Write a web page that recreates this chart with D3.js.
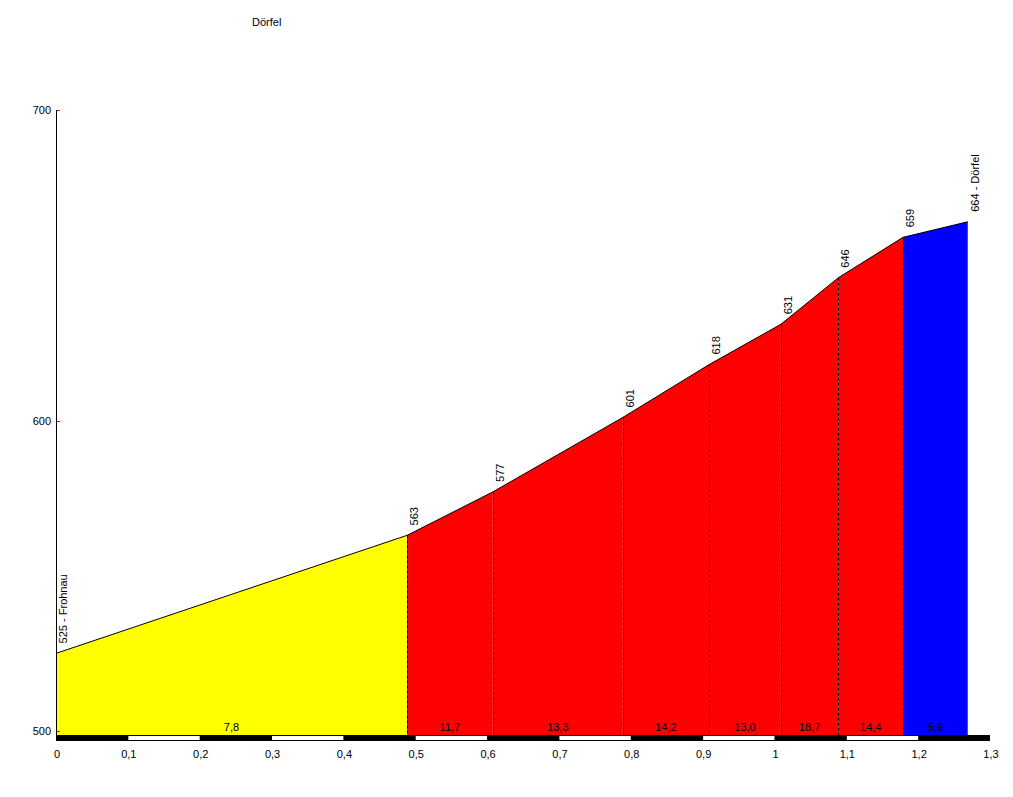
<!DOCTYPE html>
<html><head><meta charset="utf-8">
<script src="https://cdn.jsdelivr.net/npm/d3@7"></script>
<style>body{margin:0;background:#fff}svg text{font-family:"Liberation Sans",Arial,sans-serif;font-size:11px;fill:#000}</style>
</head><body>
<svg id="c" width="1013" height="797"></svg>
<script>
const title = "Dörfel";
const distances = [0, 0.4885, 0.608, 0.789, 0.909, 1.009, 1.089, 1.179, 1.269];
const elevations = [525, 563, 577, 601, 618, 631, 646, 659, 664];
const pointLabels = ["525 - Frohnau","563","577","601","618","631","646","659","664 - Dörfel"];
const gradients = ["7,8","11,7","13,3","14,2","13,0","18,7","14,4","5,6"];
const segColors = ["#ffff00","#ff0000","#ff0000","#ff0000","#ff0000","#ff0000","#ff0000","#0000ff"];
const xTicks = [0,0.1,0.2,0.3,0.4,0.5,0.6,0.7,0.8,0.9,1,1.1,1.2,1.3];
const yTicks = [500,600,700];

const svg = d3.select("#c");
const x = d3.scaleLinear().domain([0,1.3]).range([56,990]);
const y = d3.scaleLinear().domain([500,700]).range([731,110]);
const base = 735;
const fmt = v => String(v).replace(".", ",");

svg.append("text").attr("x",252).attr("y",26).text(title);

// filled segments
for (let i=0;i<gradients.length;i++){
  const x0=x(distances[i]), x1=x(distances[i+1]);
  svg.append("path")
    .attr("d",`M${x0},${base}L${x0},${y(elevations[i])}L${x1},${y(elevations[i+1])}L${x1},${base}Z`)
    .attr("fill",segColors[i]);
}
// profile line
svg.append("path").datum(distances.map((d,i)=>[x(d),y(elevations[i])]))
  .attr("d",d3.line()).attr("fill","none").attr("stroke","#000").attr("stroke-width",1);
// dashed dividers
for (let i=1;i<distances.length-1;i++){
  svg.append("line").attr("x1",Math.round(x(distances[i]))+0.5).attr("x2",Math.round(x(distances[i]))+0.5)
    .attr("y1",y(elevations[i])).attr("y2",base)
    .attr("stroke","#000").attr("stroke-width",1).attr("stroke-dasharray","3,2");
}
// gradient labels
for (let i=0;i<gradients.length;i++){
  svg.append("text").attr("x",(x(distances[i])+x(distances[i+1]))/2).attr("y",731)
    .attr("text-anchor","middle").text(gradients[i]);
}
// point labels
distances.forEach((d,i)=>{
  const px=x(d)+11, py=y(elevations[i])-10;
  svg.append("text").attr("transform",`translate(${px},${py}) rotate(-90)`).text(pointLabels[i]);
});
// y axis
svg.append("line").attr("x1",56.5).attr("x2",56.5).attr("y1",y(700)).attr("y2",base).attr("stroke","#000");
yTicks.forEach(t=>{
  svg.append("line").attr("x1",57).attr("x2",60).attr("y1",Math.round(y(t))+0.5).attr("y2",Math.round(y(t))+0.5).attr("stroke","#ff0000");
  svg.append("text").attr("x",51).attr("y",y(t)+4).attr("text-anchor","end").text(t);
});
// bottom bar
svg.append("rect").attr("x",x(0)).attr("y",base).attr("width",x(1.3)-x(0)).attr("height",6).attr("fill","#000");
for (let i=0;i<13;i++){
  if (i%2===1){
    svg.append("rect").attr("x",x(xTicks[i])+0.5).attr("y",base+1).attr("width",x(xTicks[i+1])-x(xTicks[i])-0.5).attr("height",4).attr("fill","#fff");
  }
}
xTicks.forEach(t=>{
  svg.append("text").attr("x",x(t)+1).attr("y",758).attr("text-anchor","middle").text(fmt(t));
});
</script>
</body></html>
